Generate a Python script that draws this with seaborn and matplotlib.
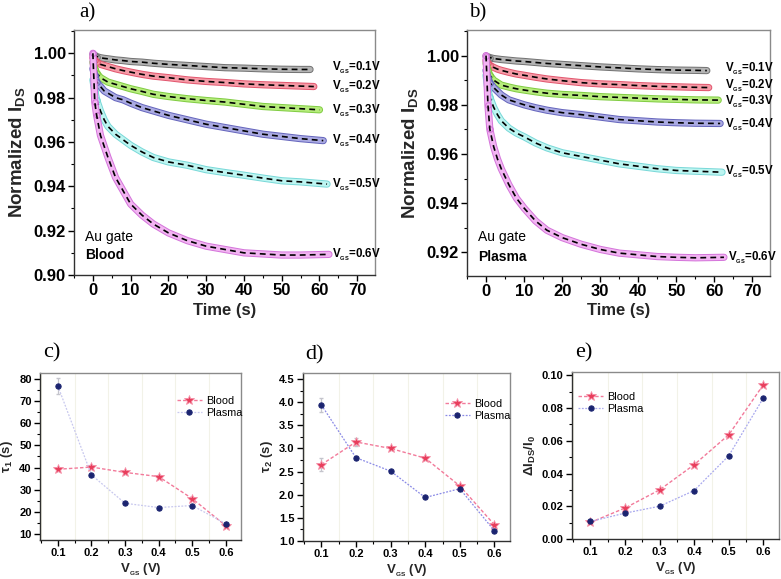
import matplotlib
matplotlib.use("Agg")
import matplotlib.pyplot as plt
import matplotlib.patheffects as pe
from matplotlib.ticker import MultipleLocator, AutoMinorLocator, FormatStrFormatter
import seaborn as sns

sns.set_theme(style="ticks")
plt.rcParams['font.family'] = ['Liberation Sans', 'DejaVu Sans']
plt.rcParams['font.weight'] = 'bold'
plt.rcParams['mathtext.fontset'] = 'custom'
plt.rcParams['mathtext.rm'] = 'Liberation Sans'
plt.rcParams['mathtext.bf'] = 'Liberation Sans:bold'
plt.rcParams['text.color'] = 'black'
plt.rcParams['xtick.color'] = 'black'
plt.rcParams['ytick.color'] = 'black'

# ---------------- data: normalized I_DS transients ----------------
t_common = [0, 0.5, 1, 2, 3, 4, 6, 8, 10, 13, 16, 20, 25, 30, 35, 40, 45, 50, 55]
vgs_labels = ["0.1V", "0.2V", "0.3V", "0.4V", "0.5V", "0.6V"]

t_end_blood = [57.5, 58.5, 60, 61, 62, 62.5]
blood_01 = [0.9995, 0.999, 0.9985, 0.998, 0.9977, 0.9975, 0.997, 0.9967, 0.9963, 0.996, 0.9955, 0.995, 0.9945, 0.994, 0.9935, 0.9933, 0.993, 0.9928, 0.9927, 0.9927]
blood_02 = [0.998, 0.997, 0.996, 0.995, 0.9945, 0.994, 0.993, 0.9922, 0.9915, 0.9905, 0.9897, 0.989, 0.988, 0.9873, 0.9868, 0.9862, 0.9858, 0.9855, 0.9852, 0.985]
blood_03 = [0.996, 0.993, 0.991, 0.989, 0.988, 0.987, 0.986, 0.985, 0.984, 0.9828, 0.9815, 0.9805, 0.9795, 0.9787, 0.978, 0.977, 0.976, 0.9755, 0.975, 0.9745]
blood_04 = [0.993, 0.990, 0.987, 0.985, 0.983, 0.982, 0.980, 0.979, 0.9775, 0.9755, 0.974, 0.972, 0.970, 0.968, 0.9665, 0.965, 0.9635, 0.9625, 0.9615, 0.9606]
blood_05 = [0.988, 0.983, 0.979, 0.974, 0.970, 0.967, 0.9635, 0.961, 0.9585, 0.9555, 0.953, 0.951, 0.9495, 0.9475, 0.9462, 0.945, 0.9437, 0.9425, 0.942, 0.941]
blood_06 = [1.000, 0.978, 0.972, 0.963, 0.958, 0.953, 0.944, 0.938, 0.932, 0.927, 0.923, 0.919, 0.9155, 0.913, 0.9115, 0.910, 0.9095, 0.909, 0.909, 0.9093]
blood_label_y = [0.9935, 0.985, 0.974, 0.9605, 0.9407, 0.909]

t_end_plasma = [58, 58.5, 61, 61.5, 62, 62.5]
plasma_01 = [0.9998, 0.9995, 0.9992, 0.9988, 0.9986, 0.9984, 0.9981, 0.9978, 0.9976, 0.9972, 0.9968, 0.9964, 0.9959, 0.9954, 0.995, 0.9946, 0.9943, 0.9941, 0.994, 0.9939]
plasma_02 = [0.998, 0.997, 0.996, 0.9952, 0.9945, 0.994, 0.9932, 0.9925, 0.992, 0.9912, 0.9905, 0.9898, 0.989, 0.9885, 0.9882, 0.9878, 0.9875, 0.9873, 0.9871, 0.987]
plasma_03 = [0.997, 0.994, 0.992, 0.990, 0.989, 0.988, 0.9872, 0.9865, 0.986, 0.9853, 0.9847, 0.9842, 0.9838, 0.9833, 0.983, 0.9827, 0.9824, 0.9822, 0.982, 0.9819]
plasma_04 = [0.994, 0.991, 0.989, 0.987, 0.9855, 0.984, 0.982, 0.981, 0.980, 0.9788, 0.9778, 0.9768, 0.976, 0.975, 0.974, 0.9735, 0.973, 0.9727, 0.9725, 0.9724]
plasma_05 = [0.992, 0.986, 0.983, 0.979, 0.976, 0.9735, 0.9705, 0.9685, 0.967, 0.9645, 0.9625, 0.9605, 0.959, 0.9575, 0.956, 0.955, 0.954, 0.9533, 0.953, 0.9526]
plasma_06 = [1.000, 0.980, 0.970, 0.963, 0.958, 0.954, 0.9475, 0.942, 0.938, 0.9328, 0.929, 0.926, 0.9233, 0.9212, 0.9197, 0.919, 0.9183, 0.918, 0.9178, 0.918]
plasma_label_y = [0.9945, 0.9877, 0.9811, 0.9721, 0.9528, 0.9179]

# ---------------- data: fit parameters vs V_GS ----------------
vgs = [0.1, 0.2, 0.3, 0.4, 0.5, 0.6]
tau1_blood = [39.2, 40.2, 37.8, 35.9, 26.0, 13.8]
tau1_plasma = [76.7, 36.7, 23.9, 22.0, 22.9, 14.7]
tau1_blood_err = [0.8, 0.8, 0.6, 0.6, 0.6, 0.5]
tau1_plasma_err = [3.6, 0.6, 0.5, 0.5, 0.5, 0.5]
tau2_blood = [2.65, 3.14, 3.00, 2.79, 2.19, 1.35]
tau2_plasma = [3.94, 2.80, 2.51, 1.94, 2.13, 1.22]
tau2_blood_err = [0.14, 0.09, 0.04, 0.03, 0.02, 0.02]
tau2_plasma_err = [0.15, 0.03, 0.03, 0.02, 0.02, 0.02]
dI_blood = [0.0101, 0.0189, 0.0300, 0.0454, 0.0637, 0.0943]
dI_plasma = [0.0107, 0.0158, 0.0200, 0.0296, 0.0509, 0.0862]

band_colors = ['#b4b4b4', '#f59aa6', '#b6ec7c', '#aaaae2', '#bdf5f1', '#f2b4f2']
edge_colors = ['#727272', '#e2566e', '#80cc42', '#6464bc', '#78d8d8', '#d474da']

VGS_TXT = r'V$_{_{\mathbf{GS}}}$'

W, H = 781, 579
fig = plt.figure(figsize=(W / 100, H / 100), dpi=100)


def box(l, t, r, b):
    return [l / W, 1 - b / H, (r - l) / W, (b - t) / H]


def style_axes(ax, labelsize):
    for s in ['left', 'bottom']:
        ax.spines[s].set_color('#303030')
    for s in ['top', 'right']:
        ax.spines[s].set_color('#8a8a8a')
    for s in ax.spines.values():
        s.set_linewidth(1.0)
    ax.xaxis.set_minor_locator(AutoMinorLocator(2))
    ax.yaxis.set_minor_locator(AutoMinorLocator(2))
    ax.tick_params(which='major', direction='out', length=4, width=1, labelsize=labelsize, pad=2)
    ax.tick_params(which='minor', direction='out', length=2.5, width=0.8)
    for lbl in ax.get_xticklabels() + ax.get_yticklabels():
        lbl.set_fontweight('bold')


def transient_panel(ax, curves, t_end, label_y, label_x, sample, ylim, xlim):
    for i, vals in enumerate(curves):
        t = t_common + [t_end[i]]
        sns.lineplot(x=t, y=vals, ax=ax, color=band_colors[i], lw=3.8,
                     solid_capstyle='round', solid_joinstyle='round',
                     path_effects=[pe.Stroke(linewidth=5.2, foreground=edge_colors[i]), pe.Normal()])
        ax.plot(t[:3], vals[:3], 'o', ms=4, mfc='none', mec=edge_colors[i], mew=0.8)
        sns.lineplot(x=t, y=vals, ax=ax, color='black', lw=1.2, linestyle=(0, (3.5, 2.5)))
        ax.text(label_x[i], label_y[i], VGS_TXT + '=' + vgs_labels[i], fontsize=8.3,
                va='center', ha='left', fontweight='bold')
    ax.text(-2, label_y[5] + 0.0082, 'Au gate', fontsize=10, fontweight='normal', va='center')
    ax.text(-2, label_y[5] + 0.0002, sample, fontsize=10, fontweight='bold', va='center')
    ax.set_xlim(*xlim)
    ax.set_ylim(*ylim)
    ax.xaxis.set_major_locator(MultipleLocator(10))
    ax.yaxis.set_major_locator(MultipleLocator(0.02))
    ax.yaxis.set_major_formatter(FormatStrFormatter('%.2f'))
    ax.set_xlabel('Time (s)', fontsize=12, fontweight='bold', labelpad=3)
    ax.set_ylabel(r'Normalized I$_{\mathbf{DS}}$', fontsize=13.5, fontweight='bold', labelpad=4)
    style_axes(ax, 12)


ax_a = fig.add_axes(box(74, 30, 375, 275))
transient_panel(ax_a, [blood_01, blood_02, blood_03, blood_04, blood_05, blood_06],
                t_end_blood, blood_label_y, [63.3] * 6, 'Blood', (0.9, 1.0105), (-5, 74.7))

ax_b = fig.add_axes(box(467, 30, 770, 276))
transient_panel(ax_b, [plasma_01, plasma_02, plasma_03, plasma_04, plasma_05, plasma_06],
                t_end_plasma, plasma_label_y, [62.7] * 5 + [63.6], 'Plasma', (0.9104, 1.0104), (-5, 74.6))


def param_panel(ax, yb, yp, eb, ep, ylabel, ylim, ymajor, yfmt, legend_anchor, plasma_ls):
    ax.grid(axis='x', which='minor', color='#f2f2e8', lw=0.8)
    if eb is not None:
        ax.errorbar(vgs, yb, yerr=eb, fmt='none', ecolor='#c4c4cc', elinewidth=0.9, capsize=1.5)
        ax.errorbar(vgs, yp, yerr=ep, fmt='none', ecolor='#c4c4cc', elinewidth=0.9, capsize=1.5)
    sns.lineplot(x=vgs, y=yb, ax=ax, color='#f27a9a', lw=1.0, linestyle=(0, (2.5, 1.5)),
                 marker='*', ms=7, mfc='#e83e5c', mec='#f590a8', mew=0.6, label='Blood')
    sns.lineplot(x=vgs, y=yp, ax=ax, color=plasma_ls, lw=0.9, linestyle=(0, (1.5, 1.2)),
                 marker='o', ms=3.8, mfc='#1b2470', mec='#1b2470', label='Plasma')
    ax.set_xlim(0.047, 0.645)
    ax.set_ylim(*ylim)
    ax.xaxis.set_major_locator(MultipleLocator(0.1))
    ax.xaxis.set_major_formatter(FormatStrFormatter('%.1f'))
    ax.yaxis.set_major_locator(MultipleLocator(ymajor))
    ax.yaxis.set_major_formatter(FormatStrFormatter(yfmt))
    ax.set_xlabel(VGS_TXT + ' (V)', fontsize=9.5, fontweight='bold', labelpad=2)
    ax.set_ylabel(ylabel, fontsize=9.5, fontweight='bold', labelpad=3)
    leg = ax.legend(loc='upper left', bbox_to_anchor=legend_anchor, frameon=False, fontsize=7.8,
                    borderpad=0, borderaxespad=0, handlelength=2.3, handletextpad=0.4, labelspacing=0.2)
    for txt in leg.get_texts():
        txt.set_fontweight('normal')
    style_axes(ax, 8)


ax_c = fig.add_axes(box(40, 373, 241, 540))
param_panel(ax_c, tau1_blood, tau1_plasma, tau1_blood_err, tau1_plasma_err,
            r'τ$_{\mathbf{1}}$ (s)', (7.4, 82.5), 10, '%d', (0.68, 0.865), '#c8c8ee')

ax_d = fig.add_axes(box(303, 373, 510, 541))
param_panel(ax_d, tau2_blood, tau2_plasma, tau2_blood_err, tau2_plasma_err,
            r'τ$_{\mathbf{2}}$ (s)', (1.0, 4.63), 0.5, '%.1f', (0.686, 0.848), '#8a8ae6')

ax_e = fig.add_axes(box(572, 372, 779, 539))
param_panel(ax_e, dI_blood, dI_plasma, None, None,
            r'ΔI$_{\mathbf{DS}}$/I$_{\mathbf{0}}$', (0.0, 0.102), 0.02, '%.2f', (0.03, 0.88), '#a8a8ee')

for letter, x, y, size in [('a)', 79, 13, 15), ('b)', 469, 13, 15),
                           ('c)', 43, 353, 16), ('d)', 305, 355, 16), ('e)', 575, 353, 16)]:
    fig.text(x / W, 1 - y / H, letter, family=['Liberation Serif', 'DejaVu Serif'],
             fontsize=size, fontweight='normal', va='center', ha='left')

fig.savefig('out.png', dpi=100)
